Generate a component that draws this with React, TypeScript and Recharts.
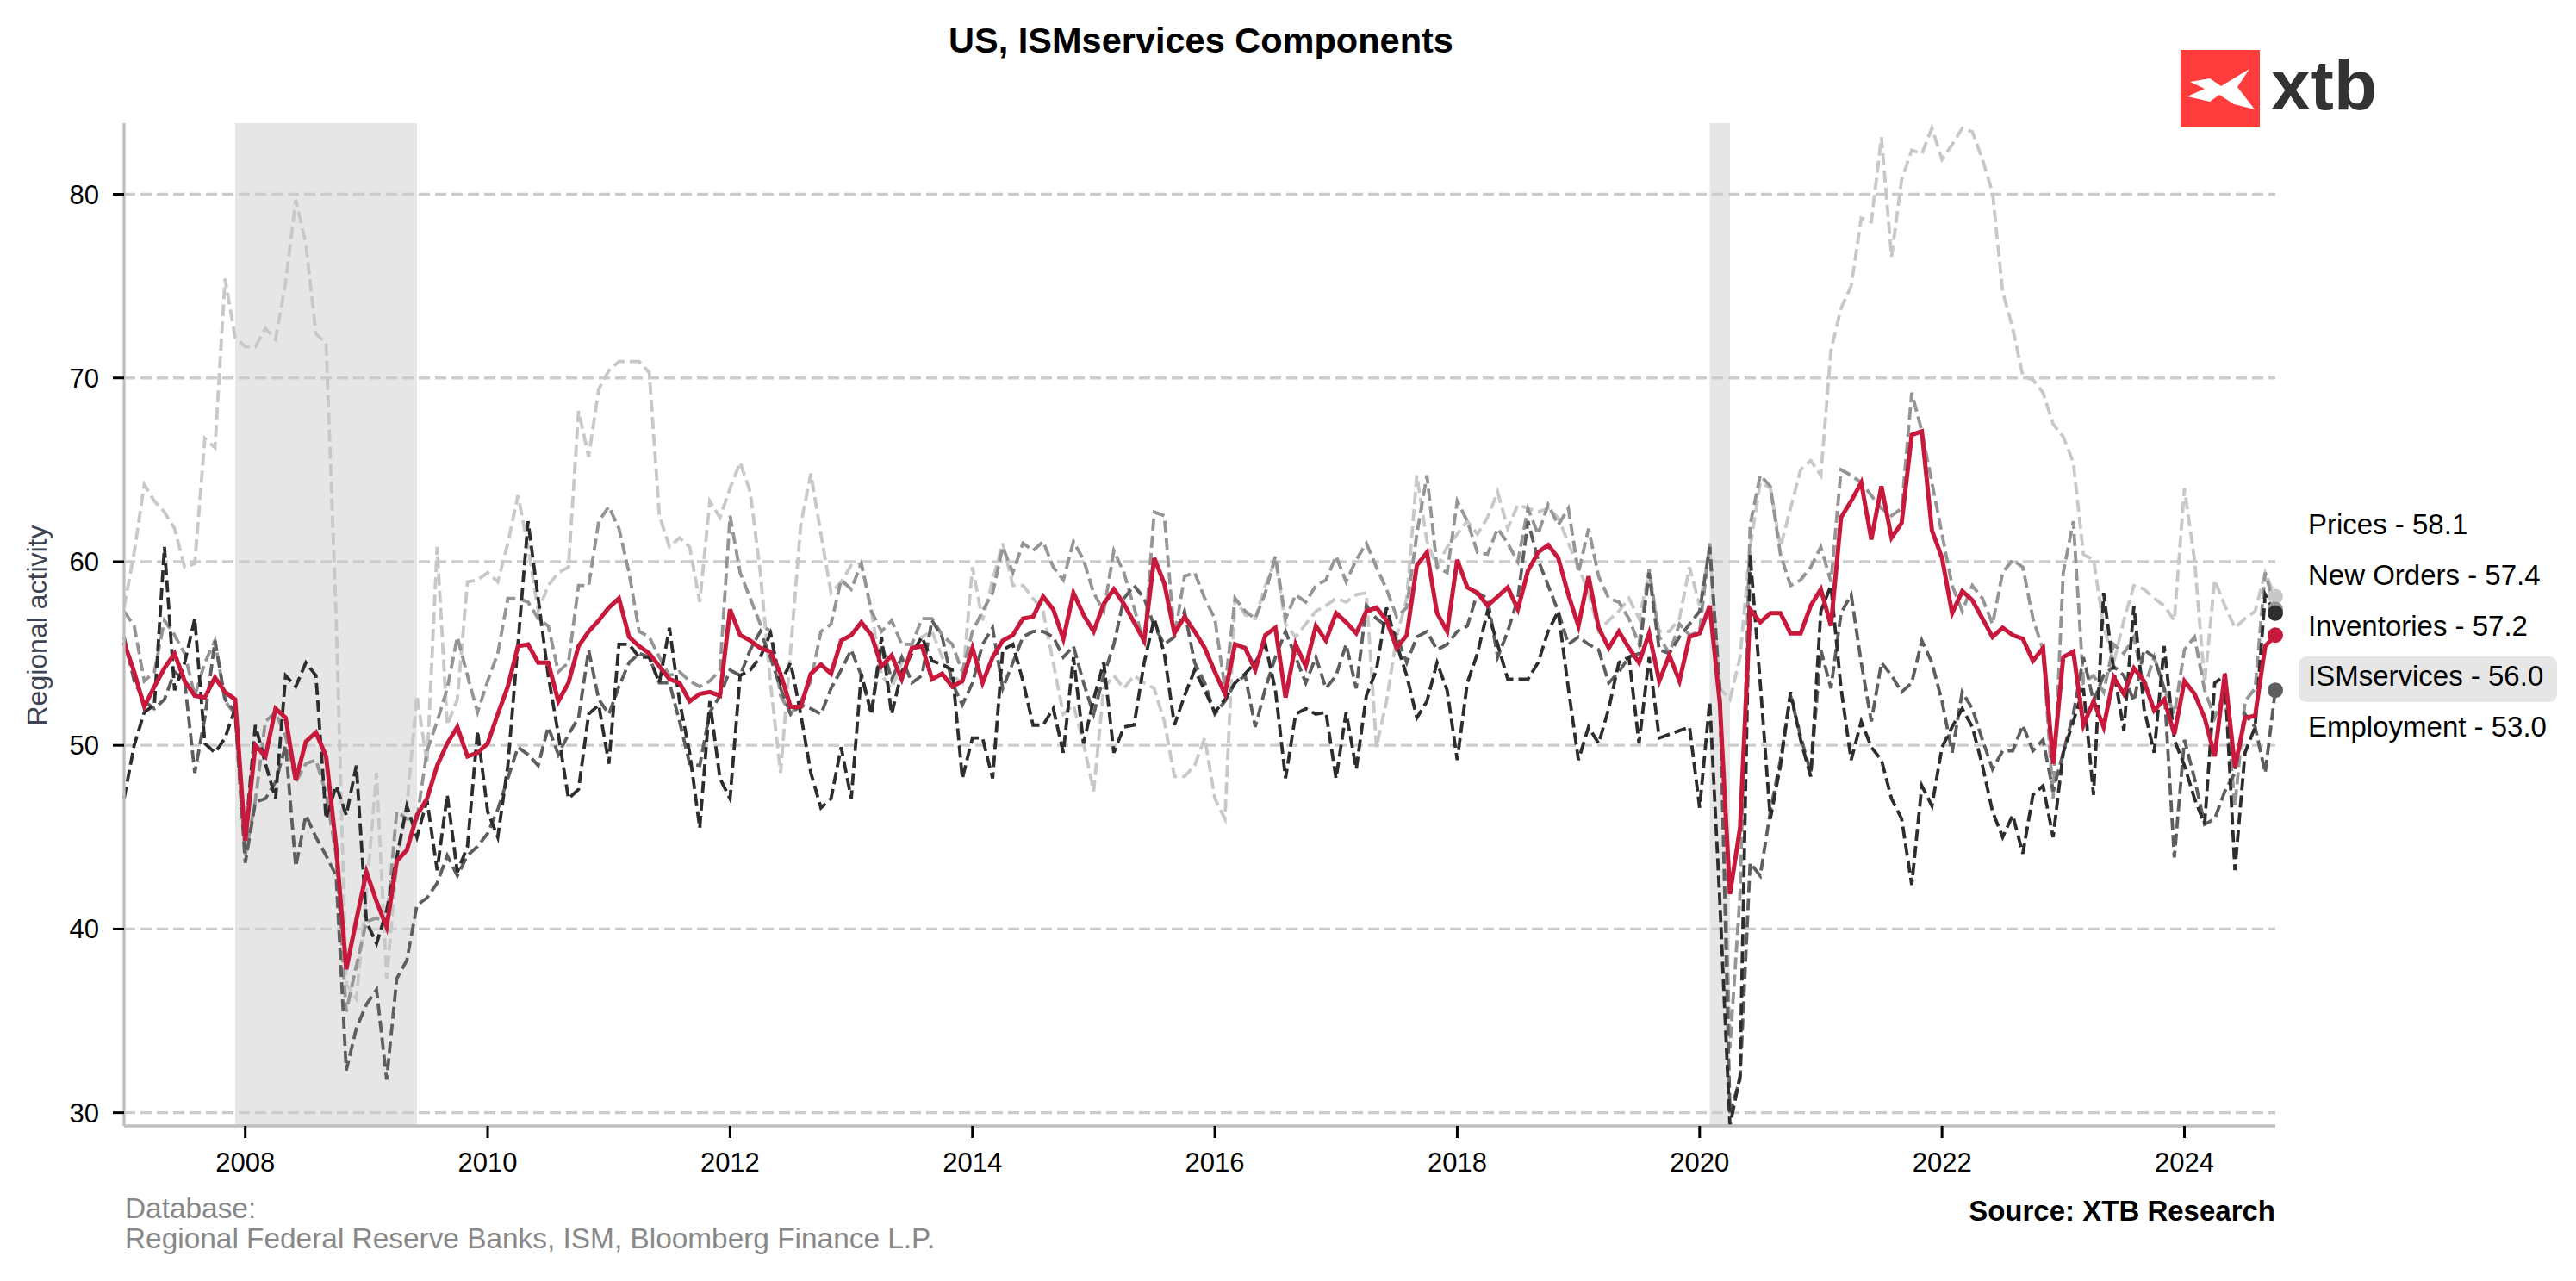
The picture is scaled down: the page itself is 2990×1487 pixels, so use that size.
import React from "react";
import { LineChart, Line, XAxis, YAxis, ReferenceArea, ReferenceLine } from "recharts";

const W = 2990;
const H = 1487;
const FONT = "'Liberation Sans', Arial, Helvetica, sans-serif";

// monthly, index 0 = Jan 2007 ... 213 = Oct 2024
const ismServices = [
  55.6, 54.0, 52.1, 53.2, 54.2, 55.0, 53.5, 52.7, 52.6, 53.7, 52.9, 52.5,
  44.8, 50.0, 49.4, 52.0, 51.5, 48.1, 50.2, 50.7, 49.4, 44.5, 37.8, 40.5,
  43.1, 41.5, 40.1, 43.7, 44.3, 46.2, 47.1, 48.9, 50.1, 51.0, 49.4, 49.6,
  50.1, 51.7, 53.2, 55.4, 55.5, 54.5, 54.5, 52.4, 53.4, 55.4, 56.2, 56.8,
  57.5, 58.0, 55.9, 55.4, 55.0, 54.3, 53.6, 53.4, 52.4, 52.8, 52.9, 52.7,
  57.4, 56.0, 55.7, 55.3, 55.1, 53.9, 52.1, 52.1, 53.9, 54.4, 53.9, 55.7,
  56.0, 56.7, 56.0, 54.3, 54.9, 53.6, 55.3, 55.4, 53.6, 53.9, 53.2, 53.5,
  55.3, 53.4, 54.8, 55.7, 56.0, 56.9, 57.0, 58.1, 57.4, 55.8, 58.3, 57.1,
  56.2, 57.7, 58.5, 57.7, 56.7, 55.7, 60.2, 58.8, 56.1, 57.0, 56.2, 55.3,
  54.0, 52.8, 55.5, 55.3, 54.1, 56.0, 56.4, 52.6, 55.5, 54.3, 56.5, 55.7,
  57.2, 56.7, 56.1, 57.3, 57.5, 56.8, 55.3, 56.0, 59.8, 60.5, 57.2, 56.2,
  60.1, 58.6, 58.3, 57.6, 58.1, 58.6, 57.4, 59.5, 60.5, 60.9, 60.2, 58.2,
  56.5, 59.2, 56.4, 55.3, 56.2, 55.3, 54.5, 56.1, 53.5, 54.9, 53.5, 55.9,
  56.1, 57.6, 52.3, 41.9, 45.5, 57.4, 56.7, 57.2, 57.2, 56.1, 56.1, 57.6,
  58.5, 56.5, 62.4, 63.3, 64.3, 61.2, 64.1, 61.3, 62.1, 66.9, 67.1, 61.7,
  60.2, 57.2, 58.4, 57.9, 56.9, 55.9, 56.4, 56.0, 55.8, 54.6, 55.3, 49.0,
  54.8, 55.1, 51.1, 52.4, 51.0, 53.7, 52.8, 54.2, 53.5, 51.9, 52.5, 50.6,
  53.5, 52.8, 51.5, 49.4, 53.9, 48.8, 51.5, 51.6, 55.4, 56.0,
];

const prices = [
  57.5, 60.5, 64.2, 63.3, 62.7, 61.8, 59.7, 59.9, 66.7, 66.2, 75.4, 72.2,
  71.7, 71.7, 72.7, 72.1, 75.2, 79.7, 77.3, 72.4, 71.9, 57.0, 37.0, 36.2,
  42.0, 48.5, 37.3, 43.5, 46.7, 52.7, 49.0, 60.8, 51.1, 52.5, 58.9, 59.0,
  59.4, 58.9, 61.0, 63.6, 60.8, 57.3, 58.7, 59.4, 59.7, 68.2, 65.7, 69.4,
  70.4, 70.9, 70.9, 70.9, 70.3, 62.5, 60.8, 61.3, 60.8, 57.8, 63.3, 62.4,
  64.0, 65.4, 63.8, 59.4, 53.4, 48.5, 55.2, 62.0, 64.8, 61.5, 58.3, 58.9,
  59.8, 59.9, 57.3, 53.8, 53.1, 54.5, 55.2, 55.9, 56.2, 54.8, 53.8, 53.4,
  59.7, 56.8, 59.0, 61.0, 58.7, 58.7, 58.0, 57.3, 54.5, 51.7, 52.2, 50.1,
  47.5, 53.1, 53.8, 53.1, 53.8, 53.4, 53.1, 51.3, 48.3, 48.3, 48.9, 50.4,
  47.1, 46.0, 58.0, 57.1, 56.9, 58.7, 60.1, 56.6, 55.9, 56.6, 57.3, 57.6,
  58.0, 57.8, 58.2, 58.3, 49.9, 52.4, 55.9, 58.0, 64.7, 61.1, 59.7, 60.8,
  61.5, 62.2, 61.5, 62.4, 63.8, 61.8, 63.1, 62.9, 62.7, 62.9, 62.4, 61.0,
  59.7, 58.3, 56.2, 56.8, 57.3, 58.0, 56.9, 59.4, 56.2, 56.2, 56.9, 59.7,
  57.6, 60.8, 53.1, 52.5, 54.8, 60.8, 64.3, 64.0, 60.8, 62.9, 65.0, 65.5,
  64.7, 71.5, 73.8, 75.0, 78.7, 78.5, 83.1, 76.6, 80.8, 82.4, 82.2, 83.6,
  81.9, 82.7, 83.6, 83.4, 81.9, 80.1, 74.7, 72.7, 70.1, 69.9, 69.2, 67.5,
  66.8, 65.4, 60.4, 60.1, 56.5, 54.5, 56.8, 58.7, 58.5, 58.0, 57.6, 56.8,
  64.0, 60.1, 53.4, 59.0, 57.6, 56.4, 56.9, 57.3, 59.4, 58.1,
];

const newOrders = [
  57.3, 56.5, 53.5, 54.0, 56.8, 56.0, 55.0, 52.7, 54.5, 55.7, 52.4, 51.7,
  44.0, 47.0, 51.3, 51.8, 50.5, 48.0, 49.0, 49.2, 47.4, 44.0, 35.5, 38.0,
  40.4, 40.6, 40.3, 46.4, 46.0, 46.0, 49.7, 51.3, 53.1, 55.9, 53.8, 51.8,
  53.5, 55.0, 58.0, 58.0, 57.8, 56.9, 56.5, 54.0, 54.5, 58.7, 58.7, 62.2,
  63.0, 61.8, 59.4, 56.2, 55.9, 54.8, 53.8, 54.0, 53.5, 53.2, 53.5, 54.1,
  62.5, 59.4, 58.0, 56.6, 56.2, 52.7, 51.7, 52.4, 53.5, 56.2, 56.6, 59.0,
  58.5, 59.9, 57.3, 56.2, 56.8, 55.5, 55.5, 56.9, 56.9, 56.0, 55.5, 54.0,
  56.2, 57.3, 58.3, 60.8, 59.4, 61.0, 60.6, 61.1, 59.7, 59.0, 61.1, 60.1,
  58.3, 57.3, 60.6, 59.4, 57.5, 55.5, 62.7, 62.5, 55.9, 59.2, 59.4, 58.0,
  56.9, 53.1, 58.0, 57.3, 56.9, 58.3, 60.3, 56.9, 58.2, 57.8, 58.7, 59.0,
  60.3, 58.9, 60.1, 61.0, 59.7, 58.5, 57.0, 57.5, 61.5, 64.7, 59.7, 59.4,
  63.3, 62.2, 60.5, 60.4, 61.8, 61.0, 60.0, 62.9, 61.5, 63.1, 62.0, 62.9,
  59.4, 61.8, 59.2, 58.0, 57.8, 56.9, 55.5, 59.6, 55.9, 55.0, 56.6, 56.0,
  56.2, 61.0, 52.4, 33.5, 41.9, 62.0, 64.7, 64.1, 60.4, 58.7, 59.0, 59.7,
  60.8, 58.9, 65.0, 64.7, 64.3, 63.6, 62.9, 62.5, 62.9, 69.2, 67.1, 64.3,
  61.5, 58.7, 57.3, 58.7, 58.0, 56.6, 59.4, 60.1, 59.7, 56.9, 55.2, 47.1,
  59.4, 62.2, 53.4, 53.8, 52.9, 55.5, 55.0, 55.9, 53.1, 54.8, 53.1, 51.7,
  55.2, 55.9, 53.0, 51.5, 53.0, 46.7, 52.4, 53.1, 59.4, 57.4,
];

const employment = [
  55.9, 53.5, 52.4, 52.0, 52.5, 54.0, 53.5, 48.5, 51.5, 55.7, 52.5, 51.8,
  43.6, 46.9, 47.1, 48.0, 50.0, 43.4, 46.2, 45.0, 44.0, 42.9, 32.3, 34.6,
  35.9, 36.7, 31.8, 37.3, 38.3, 41.3, 41.7, 42.5, 44.0, 42.9, 44.0, 44.5,
  45.2, 46.5, 48.2, 49.9, 49.5, 48.9, 51.0, 49.5, 50.6, 51.5, 55.2, 52.5,
  51.7, 53.2, 54.5, 55.0, 54.8, 53.4, 53.4, 51.3, 49.0, 48.9, 51.8, 52.7,
  54.1, 53.8, 55.2, 56.2, 54.8, 53.1, 51.7, 52.2, 52.0, 51.7, 53.1, 54.1,
  55.2, 53.8, 51.7, 55.5, 53.6, 54.8, 53.4, 53.8, 56.8, 55.9, 53.4, 52.2,
  53.4, 55.5, 56.4, 53.1, 54.5, 55.9, 56.2, 56.2, 55.9, 54.8, 55.4, 53.4,
  51.7, 53.8, 55.5, 58.0, 58.7, 58.0, 56.5, 55.5, 55.9, 57.3, 54.5, 53.4,
  51.7, 52.4, 53.4, 53.8, 51.0, 53.1, 54.8, 56.2, 54.8, 53.4, 54.8, 53.1,
  53.8, 55.5, 53.1, 57.6, 56.9, 56.5, 56.0, 54.5, 55.9, 56.2, 55.2, 55.5,
  56.2, 56.5, 58.3, 58.0, 54.8, 56.2, 58.0, 62.2, 60.1, 58.7, 57.3, 55.5,
  55.9, 55.5, 55.2, 53.4, 54.0, 54.8, 55.0, 59.4, 55.2, 55.0, 55.9, 56.6,
  57.3, 60.8, 53.1, 30.0, 31.8, 43.6, 42.9, 46.4, 49.2, 52.7, 50.5, 48.5,
  55.2, 53.1, 57.2, 58.2, 54.5, 51.3, 54.5, 53.8, 52.9, 53.4, 55.7, 54.5,
  52.4, 49.6, 52.9, 52.0, 50.3, 48.7, 49.7, 49.7, 51.1, 49.7, 50.3, 47.5,
  49.6, 51.7, 54.8, 52.4, 53.8, 54.3, 53.8, 52.4, 55.2, 54.8, 53.1, 43.9,
  50.3, 48.2, 45.7, 46.0, 47.5, 48.5, 51.7, 51.0, 48.5, 53.0,
];

const inventories = [
  47.1, 50.0, 51.8, 52.2, 60.8, 53.0, 54.5, 56.9, 50.1, 49.6, 50.4, 52.0,
  45.0, 51.1, 49.0, 47.1, 53.8, 53.2, 54.5, 53.8, 46.0, 47.8, 46.2, 48.9,
  40.4, 39.2, 41.0, 43.9, 46.7, 45.0, 47.0, 43.2, 47.3, 43.1, 44.5, 50.8,
  46.4, 45.0, 48.9, 55.5, 62.2, 58.0, 53.8, 50.6, 47.1, 47.6, 51.7, 52.2,
  49.0, 55.5, 55.5, 54.8, 54.8, 53.4, 56.4, 52.4, 49.6, 45.5, 52.4, 48.2,
  47.1, 53.8, 54.1, 54.8, 56.1, 53.4, 54.5, 51.7, 48.5, 46.6, 47.1, 49.9,
  47.1, 53.9, 51.7, 55.9, 51.7, 54.0, 55.0, 55.9, 54.6, 54.4, 54.1, 48.2,
  50.4, 50.4, 48.2, 55.2, 55.5, 53.5, 51.1, 51.1, 52.0, 49.6, 54.8, 50.1,
  52.5, 54.5, 49.6, 51.0, 51.1, 54.5, 56.9, 55.0, 51.1, 52.7, 54.1, 53.0,
  51.8, 52.5, 53.4, 53.9, 54.5, 55.5, 53.0, 48.2, 51.7, 52.0, 51.7, 51.8,
  48.2, 51.8, 48.7, 52.7, 54.1, 57.5, 55.5, 53.8, 51.5, 52.4, 54.5, 53.0,
  49.2, 53.4, 55.0, 57.3, 55.5, 53.6, 53.6, 53.6, 54.5, 56.2, 57.3, 53.1,
  49.2, 51.0, 50.1, 52.0, 54.5, 54.8, 50.1, 54.8, 50.4, 50.6, 50.8, 51.0,
  46.6, 52.4, 41.5, 29.3, 32.0, 60.4, 53.4, 46.0, 48.9, 52.9, 50.3, 48.3,
  57.3, 58.7, 53.1, 49.2, 51.3, 49.9, 49.2, 47.1, 46.0, 42.4, 47.8, 46.7,
  49.9, 51.0, 52.0, 51.0, 48.9, 46.4, 45.0, 46.2, 44.1, 47.3, 47.8, 45.0,
  49.6, 51.3, 53.1, 47.3, 58.3, 54.1, 50.8, 57.6, 52.0, 49.6, 55.4, 50.3,
  48.9, 47.1, 45.7, 53.4, 53.8, 43.2, 49.6, 51.0, 58.2, 57.2,
];

const yearTicks = [12, 36, 60, 84, 108, 132, 156, 180, 204];
const yTicks = [30, 40, 50, 60, 70, 80];
const recessions = [
  [11, 29],
  [157, 159],
];

const series = [
  { key: "prices", name: "Prices", values: prices, color: "#c8c8c8" },
  { key: "newOrders", name: "New Orders", values: newOrders, color: "#959595" },
  { key: "employment", name: "Employment", values: employment, color: "#5e5e5e" },
  { key: "inventories", name: "Inventories", values: inventories, color: "#2d2d2d" },
];

const data = ismServices.map((v, i) => ({
  m: i,
  ism: v,
  prices: prices[i],
  newOrders: newOrders[i],
  employment: employment[i],
  inventories: inventories[i],
}));

const lastIdx = ismServices.length - 1;

const endDot = (color: string) => (props: any) => {
  const { cx, cy, index } = props;
  if (index !== lastIdx) return <g key={`d-${index}`} />;
  return <circle key={`d-${index}`} cx={cx} cy={cy} r={9} fill={color} stroke="none" />;
};

// right side labels, sorted like the reference
const sideLabels = [
  { text: `Prices - ${prices[lastIdx].toFixed(1)}`, y: 620 },
  { text: `New Orders - ${newOrders[lastIdx].toFixed(1)}`, y: 679 },
  { text: `Inventories - ${inventories[lastIdx].toFixed(1)}`, y: 738 },
  { text: `ISMservices - ${ismServices[lastIdx].toFixed(1)}`, y: 796, box: true },
  { text: `Employment - ${employment[lastIdx].toFixed(1)}`, y: 855 },
];

function Overlay() {
  return (
    <svg
      width={W}
      height={H}
      style={{ position: "absolute", left: 0, top: 0, pointerEvents: "none" }}
      fontFamily={FONT}
    >
      <text x={1394} y={61} textAnchor="middle" fontSize={41.5} fontWeight="bold" fill="#000">
        US, ISMservices Components
      </text>

      {/* logo */}
      <rect x={2531} y={58} width={92} height={90} fill="#ff3b3b" />
      <polygon
        points="2542,95 2565,91 2578,100 2611,80 2597,101 2617,127 2593,121 2576,110 2565,118 2539,112 2559,103"
        fill="#fff"
      />
      <text x={2636} y={127} fontSize={82} fontWeight="bold" fill="#333">
        xtb
      </text>

      <text
        x={43}
        y={726}
        transform="rotate(-90, 43, 726)"
        textAnchor="middle"
        dominantBaseline="central"
        fontSize={32}
        fill="#3d4451"
      >
        Regional activity
      </text>

      {sideLabels.map((l) => (
        <g key={l.text}>
          {l.box && <rect x={2668} y={762} width={300} height={53} rx={9} fill="#e6e6e6" />}
          <text x={2679} y={l.y} fontSize={33} fill="#000">
            {l.text}
          </text>
        </g>
      ))}

      <text x={145} y={1414} fontSize={33.4} fill="#888">
        Database:
      </text>
      <text x={145} y={1449} fontSize={33.4} fill="#888">
        Regional Federal Reserve Banks, ISM, Bloomberg Finance L.P.
      </text>
      <text x={2641} y={1417} textAnchor="end" fontSize={33} fontWeight="bold" fill="#000">
        Source: XTB Research
      </text>
    </svg>
  );
}

export default function App() {
  const tickStyle = { fill: "#000", fontSize: 31, fontFamily: FONT };
  return (
    <div style={{ position: "relative", width: W, height: H, background: "#fff" }}>
      <style>{"body{margin:0}"}</style>
      <LineChart
        width={W}
        height={H}
        data={data}
        margin={{ top: 143, right: 349, bottom: 120, left: 54 }}
      >
        {yTicks.map((t) => (
          <ReferenceLine
            key={`g${t}`}
            y={t}
            stroke="#cccccc"
            strokeWidth={3.3}
            strokeDasharray="13 6"
          />
        ))}
        {recessions.map(([a, b]) => (
          <ReferenceArea key={a} x1={a} x2={b} fill="#808080" fillOpacity={0.2} stroke="none" />
        ))}
        <XAxis
          dataKey="m"
          type="number"
          domain={[0, lastIdx]}
          ticks={yearTicks}
          interval={0}
          tickFormatter={(m: number) => String(2007 + m / 12)}
          height={60}
          axisLine={{ stroke: "#bfbfbf", strokeWidth: 3.3 }}
          tickLine={{ stroke: "#000", strokeWidth: 3 }}
          tickSize={14}
          tickMargin={17}
          tick={tickStyle}
        />
        <YAxis
          type="number"
          domain={[29.28, 83.87]}
          ticks={yTicks}
          interval={0}
          width={90}
          axisLine={{ stroke: "#bfbfbf", strokeWidth: 3.3 }}
          tickLine={{ stroke: "#000", strokeWidth: 3 }}
          tickSize={13}
          tickMargin={16}
          tick={tickStyle}
        />
        {series.map((s) => (
          <Line
            key={s.key}
            type="linear"
            dataKey={s.key}
            name={s.name}
            stroke={s.color}
            strokeWidth={3.8}
            strokeDasharray="14 6"
            dot={endDot(s.color)}
            activeDot={false}
            isAnimationActive={false}
          />
        ))}
        <Line
          type="linear"
          dataKey="ism"
          name="ISMservices"
          stroke="#c8193c"
          strokeWidth={5}
          dot={endDot("#c8193c")}
          activeDot={false}
          isAnimationActive={false}
        />
      </LineChart>
      <Overlay />
    </div>
  );
}
